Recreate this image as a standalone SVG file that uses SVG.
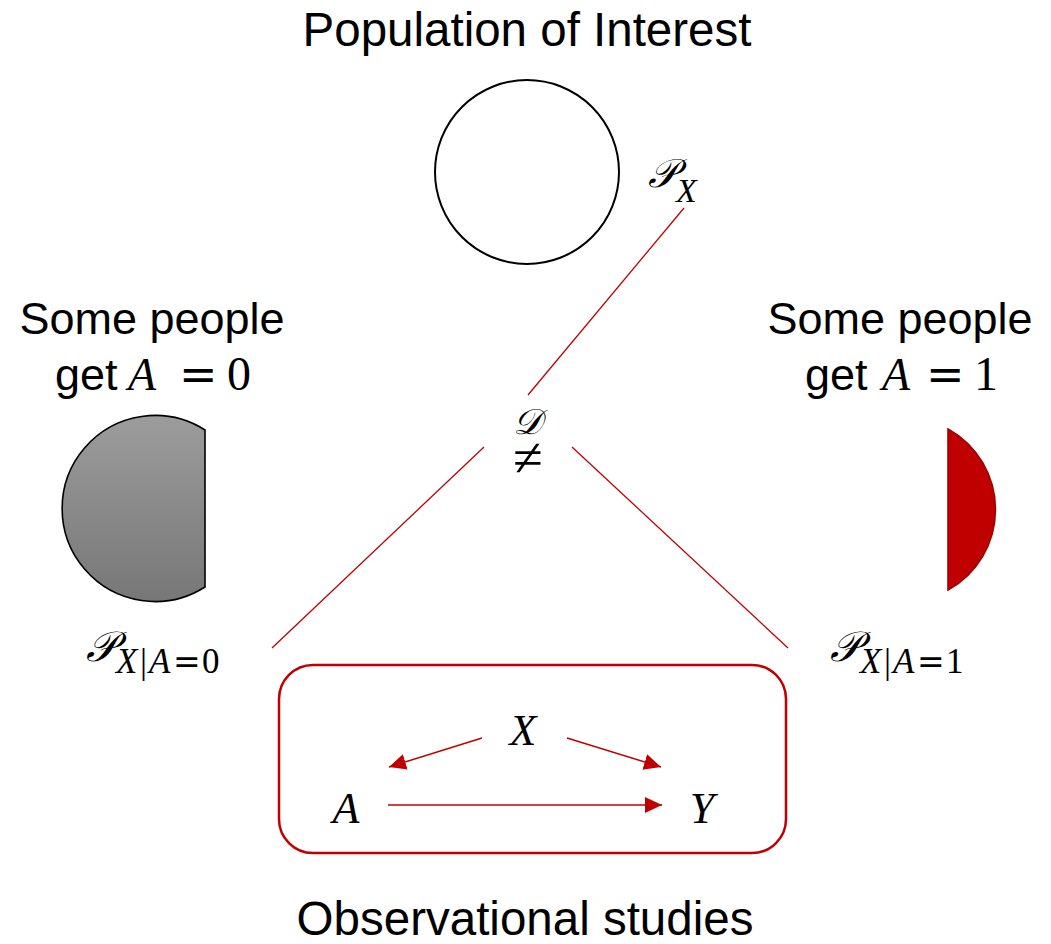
<svg xmlns="http://www.w3.org/2000/svg" width="1051" height="944" viewBox="0 0 1051 944">
<style>
.sans{font-family:"Liberation Sans",Arial,sans-serif;fill:#000}
.math{font-family:"Liberation Serif","DejaVu Serif",serif;fill:#000}
.op{font-family:"DejaVu Serif","Liberation Serif",serif;fill:#000}
.it{font-style:italic}
.scr{font-family:"DejaVu Serif","Noto Sans","DejaVu Sans",serif;font-style:italic;fill:#000}
.thin{stroke:#c00000;stroke-width:1.3;fill:none}
.arr{stroke:#c00000;stroke-width:1.5;fill:none;marker-end:url(#ah)}
</style>
<defs>
<marker id="ah" viewBox="0 0 17 16" refX="17" refY="8" markerWidth="17" markerHeight="16" markerUnits="userSpaceOnUse" orient="auto">
<path d="M0,0 L17,8 L0,16 Z" fill="#c00000"/>
</marker>
<linearGradient id="gg" x1="0" y1="0" x2="0" y2="1">
<stop offset="0" stop-color="#9c9c9c"/>
<stop offset="1" stop-color="#777777"/>
</linearGradient>
</defs>
<rect width="1051" height="944" fill="#fff"/>

<g id="title">
<text class="sans" x="527" y="46" font-size="47.5" text-anchor="middle">Population of Interest</text>
</g>

<g id="population">
<circle cx="527" cy="172" r="92" fill="#fff" stroke="#000" stroke-width="2"/>
<text class="scr" x="648" y="187" font-size="40">𝒫</text>
<text class="math it" x="676" y="202" font-size="34">X</text>
</g>

<g id="group0">
<text class="sans" x="152" y="334" font-size="45" text-anchor="middle">Some people</text>
<text class="sans" x="55" y="390" font-size="45">get</text>
<text class="math it" x="128" y="390" font-size="46">A</text>
<text class="op" x="179" y="390" font-size="46">=</text>
<text class="math" x="227" y="390" font-size="48">0</text>
<path d="M205,430 A93,93 0 1 0 205,587 Z" fill="url(#gg)" stroke="#000" stroke-width="1.6"/>
<text class="scr" x="86" y="661" font-size="42">𝒫</text>
<text class="math it" x="116" y="673" font-size="35">X</text>
<text class="math" x="140" y="673" font-size="35">|</text>
<text class="math it" x="149" y="673" font-size="35">A</text>
<text class="op" x="173" y="673" font-size="33">=</text>
<text class="math" x="202" y="673" font-size="35">0</text>
</g>

<g id="group1">
<text class="sans" x="900" y="334" font-size="45" text-anchor="middle">Some people</text>
<text class="sans" x="805" y="390" font-size="45">get</text>
<text class="math it" x="882" y="390" font-size="46">A</text>
<text class="op" x="926" y="390" font-size="46">=</text>
<text class="math" x="974" y="390" font-size="48">1</text>
<path d="M948,429 A92,92 0 0 1 948,590 Z" fill="#c00000" stroke="#a00000" stroke-width="1.6"/>
<text class="scr" x="830" y="661" font-size="42">𝒫</text>
<text class="math it" x="860" y="673" font-size="35">X</text>
<text class="math" x="884" y="673" font-size="35">|</text>
<text class="math it" x="893" y="673" font-size="35">A</text>
<text class="op" x="917" y="673" font-size="33">=</text>
<text class="math" x="946" y="673" font-size="35">1</text>
</g>

<g id="neq">
<text class="scr" x="527" y="434" font-size="36" text-anchor="middle">𝒟</text>
<text class="math" x="528" y="476" font-size="54" text-anchor="middle">≠</text>
</g>

<g id="study">
<rect x="279" y="665" width="507" height="188" rx="34" fill="none" stroke="#c00000" stroke-width="2.5"/>
<text class="math it" x="523" y="745" font-size="44" text-anchor="middle">X</text>
<text class="math it" x="346" y="823" font-size="44" text-anchor="middle">A</text>
<text class="math it" x="702" y="823" font-size="44" text-anchor="middle">Y</text>
</g>

<g id="connectors">
<line class="thin" x1="684" y1="208" x2="528" y2="395"/>
<line class="thin" x1="484" y1="447" x2="272" y2="648"/>
<line class="thin" x1="572" y1="447" x2="788" y2="648"/>
<line class="arr" x1="482" y1="738" x2="389" y2="767"/>
<line class="arr" x1="567" y1="738" x2="661" y2="767"/>
<line class="arr" x1="388" y1="805" x2="662" y2="805"/>
</g>

<g id="footer">
<text class="sans" x="525" y="935" font-size="47.5" text-anchor="middle">Observational studies</text>
</g>
</svg>
